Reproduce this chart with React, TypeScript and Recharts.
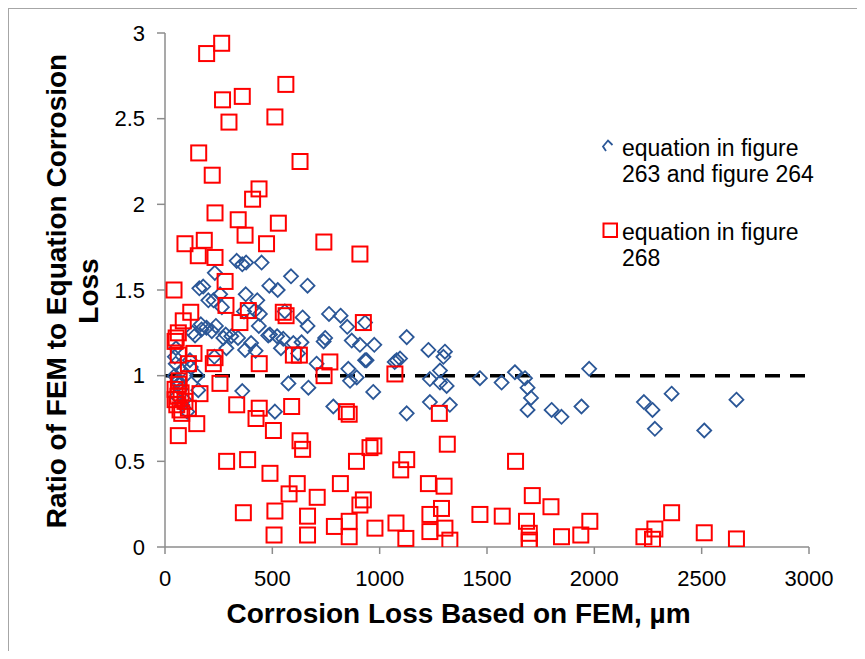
import { ScatterChart, Scatter, XAxis, YAxis, ReferenceLine } from "recharts"

// FEM corrosion loss (µm) vs ratio
const fig263Points: [number, number][] = [
    [334, 1.67], [360, 1.65], [378, 1.66], [450, 1.66], [232, 1.6], [587, 1.58], [664, 1.525], [160, 1.51],
    [178, 1.52], [486, 1.525], [525, 1.5], [376, 1.475], [257, 1.475], [226, 1.44], [430, 1.44], [202, 1.44],
    [265, 1.4], [368, 1.375], [419, 1.38], [558, 1.375], [442, 1.36], [641, 1.34], [764, 1.36], [818, 1.35],
    [664, 1.29], [849, 1.285], [437, 1.29], [167, 1.3], [193, 1.28], [170, 1.27], [218, 1.26], [129, 1.25],
    [237, 1.29], [283, 1.24], [309, 1.23], [272, 1.22], [489, 1.24], [481, 1.235], [522, 1.23], [551, 1.215],
    [598, 1.19], [636, 1.195], [540, 1.16], [746, 1.22], [739, 1.2], [870, 1.205], [908, 1.18], [975, 1.18],
    [932, 1.31], [1126, 1.225], [401, 1.19], [340, 1.22], [422, 1.145], [620, 1.13], [932, 1.09], [939, 1.09],
    [1070, 1.08], [1079, 1.09], [1095, 1.1], [1227, 1.15], [1304, 1.14], [1297, 1.11], [286, 1.16], [51, 1.16],
    [46, 1.11], [706, 1.07], [1281, 1.03], [854, 1.04], [893, 0.99], [862, 0.97], [1234, 0.98], [1467, 0.985],
    [1630, 1.02], [1677, 0.985], [1976, 1.04], [1281, 0.96], [1312, 0.94], [1568, 0.96], [575, 0.955], [668, 0.93],
    [360, 0.91], [970, 0.905], [1689, 0.93], [1705, 0.87], [1234, 0.846], [1327, 0.83], [784, 0.82], [1801, 0.8],
    [1940, 0.82], [2231, 0.846], [2271, 0.8], [2360, 0.895], [2662, 0.86], [1847, 0.76], [512, 0.79], [1126, 0.78],
    [1689, 0.8], [2282, 0.69], [2512, 0.68], [140, 1.235], [373, 1.15], [230, 1.11], [116, 1.09], [50, 1.07],
    [78, 1.03], [95, 1.0], [60, 0.97], [72, 0.92], [155, 0.915], [55, 0.88], [80, 0.83], [104, 0.79],
    [120, 1.05], [150, 1.0], [63, 0.95], [90, 0.86], [45, 1.0],
]

const fig268Points: [number, number][] = [
    [264, 2.94], [194, 2.88], [563, 2.7], [360, 2.63], [268, 2.61], [512, 2.51], [298, 2.48], [157, 2.3],
    [629, 2.25], [220, 2.17], [438, 2.09], [408, 2.03], [233, 1.95], [341, 1.91], [528, 1.89], [373, 1.82],
    [183, 1.79], [93, 1.77], [473, 1.77], [740, 1.78], [155, 1.7], [233, 1.69], [908, 1.71], [280, 1.55],
    [42, 1.5], [284, 1.41], [388, 1.38], [120, 1.37], [551, 1.37], [564, 1.35], [349, 1.31], [924, 1.31],
    [85, 1.32], [62, 1.25], [47, 1.2], [52, 1.22], [135, 1.13], [62, 1.12], [598, 1.12], [626, 1.12],
    [233, 1.105], [439, 1.07], [225, 1.07], [109, 1.07], [768, 1.08], [741, 1.0], [1071, 1.01], [256, 0.955],
    [66, 0.97], [62, 0.95], [47, 0.92], [75, 0.9], [163, 0.895], [47, 0.86], [93, 0.85], [109, 0.81],
    [70, 0.8], [78, 0.78], [55, 0.83], [60, 0.88], [334, 0.83], [439, 0.81], [424, 0.75], [590, 0.82],
    [505, 0.68], [148, 0.72], [62, 0.65], [629, 0.62], [641, 0.57], [287, 0.5], [385, 0.51], [489, 0.43],
    [616, 0.37], [578, 0.31], [709, 0.29], [817, 0.37], [365, 0.2], [512, 0.21], [664, 0.18], [508, 0.07],
    [664, 0.07], [789, 0.12], [858, 0.15], [858, 0.06], [908, 0.245], [924, 0.275], [892, 0.5], [955, 0.58],
    [1278, 0.78], [845, 0.79], [858, 0.775], [1315, 0.6], [973, 0.59], [1633, 0.5], [1126, 0.51], [1098, 0.45],
    [1227, 0.37], [1300, 0.355], [1711, 0.3], [1798, 0.235], [1288, 0.225], [1234, 0.19], [1467, 0.19], [1571, 0.18],
    [1684, 0.15], [1076, 0.14], [978, 0.11], [1234, 0.09], [1304, 0.11], [1122, 0.05], [1327, 0.04], [1697, 0.08],
    [1697, 0.04], [1697, 0.03], [1847, 0.06], [1937, 0.07], [1979, 0.15], [2231, 0.06], [2271, 0.045], [2282, 0.105],
    [2360, 0.2], [2512, 0.083], [2662, 0.047],
]

const xTicks = [0, 500, 1000, 1500, 2000, 2500, 3000]
const yTicks = [0, 0.5, 1, 1.5, 2, 2.5, 3]

const seriesNames = ["equation in figure", "263 and figure 264", "equation in figure", "268"]
const xTitle = "Corrosion Loss Based on FEM, µm"
const yTitleLines = ["Ratio of FEM to Equation Corrosion", "Loss"]

const BLUE = "#2b5797"
const RED = "#ff0000"
const FONT = "'Liberation Sans', Arial, sans-serif"

const diamond = (props: any) => {
    const { cx, cy } = props
    if (cx == null || cy == null) return <g />
    const r = 7
    return (
        <path
            d={`M${cx},${cy - r} L${cx + r},${cy} L${cx},${cy + r} L${cx - r},${cy} Z`}
            fill="none"
            stroke={BLUE}
            strokeWidth={1.8}
        />
    )
}

const square = (props: any) => {
    const { cx, cy } = props
    if (cx == null || cy == null) return <g />
    const h = 7.5
    return <rect x={cx - h} y={cy - h} width={h * 2} height={h * 2} fill="none" stroke={RED} strokeWidth={2} />
}

export default function App() {
    const blueData = fig263Points.map(([x, y]) => ({ x, y }))
    const redData = fig268Points.map(([x, y]) => ({ x, y }))

    return (
        <div
            style={{
                position: "relative",
                width: 848,
                height: 642,
                borderLeft: "1px solid #a6a6a6",
                borderTop: "1px solid #a6a6a6",
                background: "#fff",
            }}
        >
            <ScatterChart width={848} height={642} margin={{ top: 24, right: 48, bottom: 64, left: 96 }}>
                <XAxis
                    type="number"
                    dataKey="x"
                    domain={[0, 3000]}
                    ticks={xTicks}
                    height={40}
                    tickSize={7}
                    tickMargin={16}
                    axisLine={{ stroke: "#8c8c8c", strokeWidth: 1.5 }}
                    tickLine={{ stroke: "#8c8c8c", strokeWidth: 1.5 }}
                    tick={{ fill: "#000", fontSize: 22, fontFamily: FONT }}
                    allowDataOverflow
                />
                <YAxis
                    type="number"
                    dataKey="y"
                    domain={[0, 3]}
                    ticks={yTicks}
                    width={60}
                    tickSize={8}
                    tickMargin={12}
                    axisLine={{ stroke: "#8c8c8c", strokeWidth: 1.5 }}
                    tickLine={{ stroke: "#8c8c8c", strokeWidth: 1.5 }}
                    tick={{ fill: "#000", fontSize: 22, fontFamily: FONT }}
                    allowDataOverflow
                />
                <Scatter data={blueData} shape={diamond} isAnimationActive={false} />
                <Scatter data={redData} shape={square} isAnimationActive={false} />
                <ReferenceLine y={1} stroke="#000" strokeWidth={3.5} strokeDasharray="15 10" />
            </ScatterChart>

            {/* titles and legend */}
            <svg
                width={848}
                height={642}
                style={{ position: "absolute", left: 0, top: 0, pointerEvents: "none" }}
                fontFamily={FONT}
            >
                <text
                    transform="translate(57,282) rotate(-90)"
                    textAnchor="middle"
                    fontSize={28}
                    fontWeight="bold"
                    fill="#000"
                >
                    {yTitleLines[0]}
                </text>
                <text
                    transform="translate(89,282) rotate(-90)"
                    textAnchor="middle"
                    fontSize={28}
                    fontWeight="bold"
                    fill="#000"
                >
                    {yTitleLines[1]}
                </text>
                <text x={449.5} y={614} textAnchor="middle" fontSize={28} fontWeight="bold" fill="#000">
                    {xTitle}
                </text>

                <path d="M597,142 L594,137.5 L599,131.5 L603.5,136" fill="none" stroke={BLUE} strokeWidth={1.8} />
                <text x={613} y={146.5} fontSize={23} fill="#000">{seriesNames[0]}</text>
                <text x={613} y={172.5} fontSize={23} fill="#000">{seriesNames[1]}</text>

                <rect x={594.5} y={214.5} width={13.5} height={13.5} fill="none" stroke={RED} strokeWidth={2} />
                <text x={613} y={231} fontSize={23} fill="#000">{seriesNames[2]}</text>
                <text x={613} y={257} fontSize={23} fill="#000">{seriesNames[3]}</text>
            </svg>
        </div>
    )
}
